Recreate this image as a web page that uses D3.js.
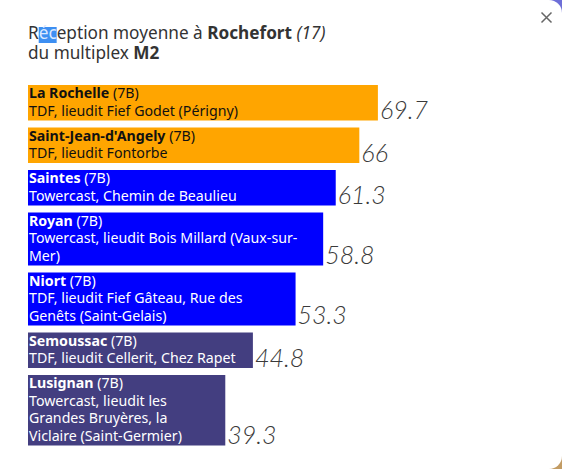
<!DOCTYPE html>
<html>
<head>
<meta charset="utf-8">
<script src="https://cdn.jsdelivr.net/npm/d3@7"></script>
<style>
  html, body { margin: 0; padding: 0; background: #fff; }
  svg { display: block; }
  text { font-family: "Noto Sans", "Open Sans", sans-serif; }
</style>
</head>
<body>
<svg id="chart"></svg>
<script>
// Données
const villes = ['La Rochelle', "Saint-Jean-d'Angely", 'Saintes', 'Royan', 'Niort', 'Semoussac', 'Lusignan'];
const canaux = ['(7B)', '(7B)', '(7B)', '(7B)', '(7B)', '(7B)', '(7B)'];
const sites = [
    ['TDF, lieudit Fief Godet (Périgny)'],
    ['TDF, lieudit Fontorbe'],
    ['Towercast, Chemin de Beaulieu'],
    ['Towercast, lieudit Bois Millard (Vaux-sur-', 'Mer)'],
    ['TDF, lieudit Fief Gâteau, Rue des', 'Genêts (Saint-Gelais)'],
    ['TDF, lieudit Cellerit, Chez Rapet'],
    ['Towercast, lieudit les', 'Grandes Bruyères, la', 'Viclaire (Saint-Germier)']
];
const valeurs = [69.7, 66, 61.3, 58.8, 53.3, 44.8, 39.3];
const couleurs = ['#ffa500', '#ffa500', '#0000ff', '#0000ff', '#0000ff', '#433e80', '#433e80'];
const couleursTexte = ['#111', '#111', '#fff', '#fff', '#fff', '#fff', '#fff'];

const width = 568;
const height = 474;
const lineH = 17.5;
const gap = 7;
const top0 = 85;

const svg = d3.select('#chart')
    .attr('width', width)
    .attr('height', height);

// Fond derrière la carte (coins arrondis)
const defs = svg.append('defs');
const grad = defs.append('linearGradient')
    .attr('id', 'bg').attr('x1', 0).attr('y1', 0).attr('x2', 0).attr('y2', 1);
grad.append('stop').attr('offset', '0%').attr('stop-color', '#6d6ed8');
grad.append('stop').attr('offset', '50%').attr('stop-color', '#9a86a8');
grad.append('stop').attr('offset', '100%').attr('stop-color', '#c39c63');

svg.append('rect')
    .attr('x', 0).attr('y', 0)
    .attr('width', 562).attr('height', 469)
    .attr('fill', 'url(#bg)');

svg.append('rect')
    .attr('x', -14).attr('y', 0)
    .attr('width', 576).attr('height', 469)
    .attr('rx', 13)
    .attr('fill', '#fff');

// Bouton fermer
svg.append('path')
    .attr('d', 'M541.5,12.5 L551.5,22.5 M551.5,12.5 L541.5,22.5')
    .attr('stroke', '#666')
    .attr('stroke-width', 1.5);

// Titre
const title = svg.append('g').attr('fill', '#333').style('font-size', '17.2px');
const hl = title.append('rect').attr('fill', '#3d8ff2');
const t1 = title.append('text').attr('x', 28).attr('y', 39);
t1.append('tspan').text('R');
t1.append('tspan').attr('fill', '#dbe9ff').text('éc');
t1.append('tspan').text('eption moyenne à ');
t1.append('tspan').attr('font-weight', 'bold').text('Rochefort');
t1.append('tspan').text(' ');
t1.append('tspan').attr('font-style', 'italic').text('(17)');
const t2 = title.append('text').attr('x', 28).attr('y', 59);
t2.append('tspan').text('du multiplex ');
t2.append('tspan').attr('font-weight', 'bold').text('M2');

// Surlignage de la sélection
const node = t1.node();
const x0 = 28 + node.getSubStringLength(0, 1);
const w0 = node.getSubStringLength(1, 2);
hl.attr('x', x0).attr('y', 27).attr('width', w0).attr('height', 16);

// Échelle
const x = d3.scaleLinear().domain([0, 100]).range([28, 530]);

// Positions verticales selon le nombre de lignes
const rows = villes.map((v, i) => ({
    ville: v,
    canal: canaux[i],
    lignes: sites[i],
    valeur: valeurs[i],
    couleur: couleurs[i],
    texte: couleursTexte[i]
}));
let cursor = top0;
rows.forEach(d => {
    d.h = (d.lignes.length + 1) * lineH + 0.5;
    d.y = cursor;
    cursor += d.h + gap;
});

const bar = svg.selectAll('g.bar')
    .data(rows)
    .enter().append('g')
    .attr('class', 'bar');

bar.append('rect')
    .attr('x', x(0))
    .attr('y', d => d.y)
    .attr('width', d => x(d.valeur) - x(0))
    .attr('height', d => d.h)
    .attr('fill', d => d.couleur);

const label = bar.append('text')
    .attr('fill', d => d.texte)
    .style('font-size', '14.2px');

label.each(function (d) {
    const t = d3.select(this);
    const first = t.append('tspan').attr('x', 29).attr('y', d.y + 13);
    first.append('tspan').attr('font-weight', 'bold').text(d.ville);
    first.append('tspan').text(' ' + d.canal);
    d.lignes.forEach((l, k) => {
        t.append('tspan')
            .attr('x', 29)
            .attr('y', d.y + 13 + (k + 1) * lineH)
            .text(l);
    });
});

// Valeurs
bar.append('text')
    .attr('x', d => x(d.valeur) + 2)
    .attr('y', d => d.y + d.h - 1.5)
    .attr('fill', '#3a3a3a')
    .attr('font-style', 'italic')
    .attr('font-weight', 300)
    .style('font-family', 'Lato, "Open Sans", sans-serif')
    .style('font-size', '25px')
    .text(d => d3.format('')(d.valeur));
</script>
</body>
</html>
